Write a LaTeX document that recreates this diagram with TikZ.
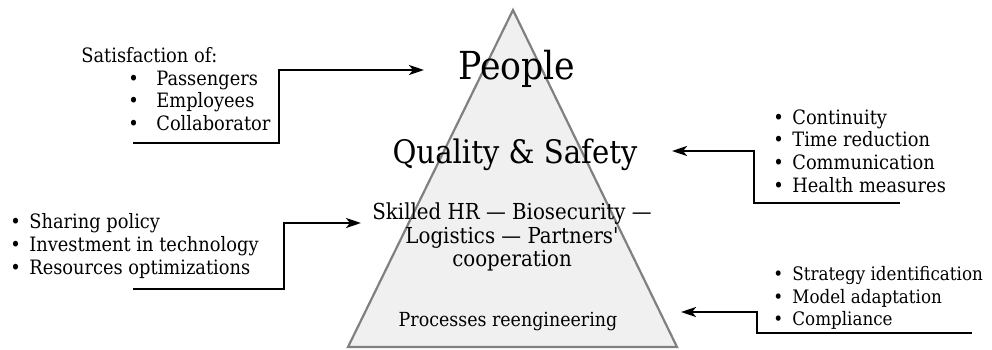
\documentclass[tikz,border=0pt]{standalone}
\usepackage{fontspec}
\setmainfont{DejaVu Serif Condensed}
\usetikzlibrary{arrows.meta,positioning}

\newcommand{\bul}{\makebox[9.5pt][l]{\textbullet}}
\newcommand{\bulw}{\hspace*{23.5pt}\makebox[14pt][l]{\textbullet}}

\begin{document}
\begin{tikzpicture}[x=0.5pt,y=-0.5pt,
        flow/.style={draw,line width=1.3pt,-{Stealth[length=7.5pt,width=5pt,inset=2pt]}},
        lst/.style={align=left,inner sep=0pt,anchor=west,font=\fontsize{9.9}{11.3}\selectfont},
        lvl/.style={align=center,inner sep=0pt}]
        \useasboundingbox (0,0) rectangle (992,349);

        % pyramid
        \draw[black!50,line width=1.1pt,fill=black!6,line join=miter] (513,10) -- (677,347) -- (348,347) -- cycle;

        \node[lvl,anchor=base,font=\fontsize{19.3}{22}\selectfont] (people) at (517,79) {People};
        \node[lvl,anchor=base,font=\fontsize{16.2}{18}\selectfont] (quality) at (515,163) {Quality \& Safety};
        \node[lvl,font=\fontsize{11}{11.6}\selectfont] (skilled) at (512,237) {Skilled HR --- Biosecurity ---\\Logistics --- Partners\textquotesingle\\cooperation};
        \node[lvl,anchor=base,font=\fontsize{9.7}{11}\selectfont] (process) at (508,326) {Processes reengineering};

        % lists
        \node[lst] (sat) at (81,89) {Satisfaction of:\\\bulw Passengers\\\bulw Employees\\\bulw Collaborator};
        \node[lst] (cont) at (773,151) {\bul Continuity\\\bul Time reduction\\\bul Communication\\\bul Health measures};
        \node[lst] (share) at (10,246) {\bul Sharing policy\\\bul Investment in technology\\\bul Resources optimizations};
        \node[lst,font=\fontsize{9.3}{11.3}\selectfont] (strat) at (773,298) {\bul Strategy identification\\\bul Model adaptation\\\bul Compliance};

        % connectors
        \coordinate (s1) at (133,143);
        \coordinate (k1) at (279,70);
        \coordinate (p1) at (424,70);
        \coordinate (s2) at (900,203);
        \coordinate (k2) at (754,151);
        \coordinate (p2) at (672,151);
        \coordinate (s3) at (133,289);
        \coordinate (k3) at (284,223);
        \coordinate (p3) at (361,223);
        \coordinate (s4) at (972,333);
        \coordinate (k4) at (757,312);
        \coordinate (p4) at (681,312);

        \draw[flow] (s1) -| (k1) -- (p1);
        \draw[flow] (s2) -| (k2) -- (p2);
        \draw[flow] (s3) -| (k3) -- (p3);
        \draw[flow] (s4) -| (k4) -- (p4);
\end{tikzpicture}
\end{document}
